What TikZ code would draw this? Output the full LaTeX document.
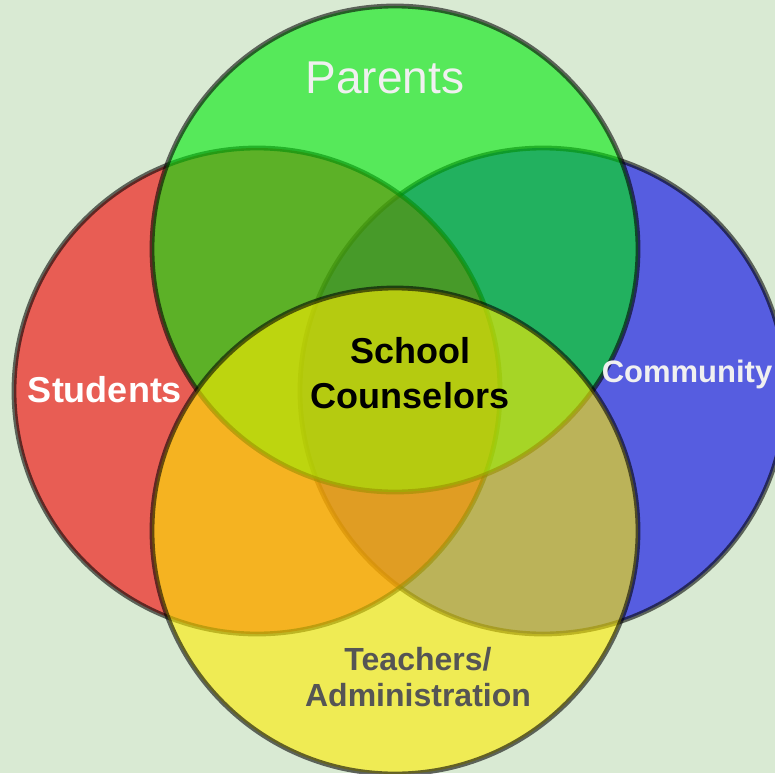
\documentclass[tikz,border=0pt]{standalone}
\usepackage{fontspec}
\setmainfont{Liberation Sans}
\definecolor{bg}{RGB}{217,234,211}
\definecolor{cred}{RGB}{242,0,0}
\definecolor{cgreen}{RGB}{0,233,10}
\definecolor{cblue}{RGB}{0,0,233}
\definecolor{cyellow}{RGB}{255,237,0}
\definecolor{txtlight}{RGB}{240,240,240}
\definecolor{txtdark}{RGB}{85,85,85}
\begin{document}
\begin{tikzpicture}[x=1pt,y=-1pt,
  venn/.style={circle, minimum size=486pt, inner sep=0pt, fill opacity=0.6, draw opacity=0.58, line width=4.8pt, draw=black},
  lbl/.style={inner sep=0pt, anchor=base, align=center}]
\useasboundingbox (0,0) rectangle (775,773);
\clip (0,0) rectangle (775,773);
\fill[bg] (0,0) rectangle (775,773);
\node[venn, fill=cblue] (community) at (543,391) {};
\node[venn, fill=cred] (students) at (257,391) {};
\node[venn, fill=cgreen] (parents) at (395,249) {};
\node[venn, fill=cyellow] (teachers) at (395,531) {};
\node[lbl, text=txtlight, font=\fontsize{46}{54}\selectfont] (tparents) at (385,93) {Parents};
\node[lbl, text=white, font=\bfseries\fontsize{36}{43}\selectfont] (tstudents) at (105,402) {Students};
\node[lbl, text=txtlight, font=\bfseries\fontsize{31}{36}\selectfont] (tcommunity) at (687,382) {Community};
\node[lbl, text=black, font=\bfseries\fontsize{36}{45.5}\selectfont] (tcounsel) at (410,408.5) {School\\Counselors};
\node[lbl, text=txtdark, font=\bfseries\fontsize{32}{36.5}\selectfont] (tteachers) at (418,706.5) {Teachers/\\Administration};
\end{tikzpicture}
\end{document}
